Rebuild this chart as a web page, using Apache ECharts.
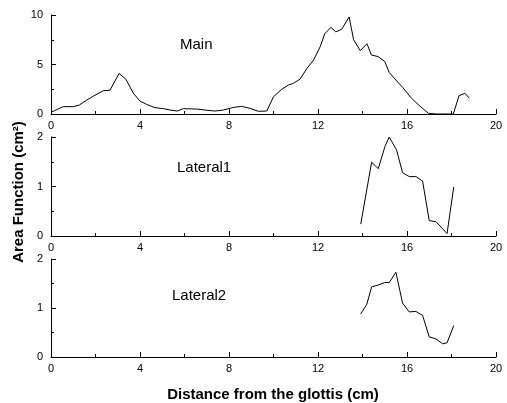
<!DOCTYPE html>
<html>
<head>
<meta charset="utf-8">
<script src="https://cdn.jsdelivr.net/npm/echarts@6/dist/echarts.min.js"></script>
<style>
  html, body { margin: 0; padding: 0; background: #fff; }
  #chart { width: 507px; height: 403px; }
</style>
</head>
<body>
<div id="chart"></div>
<script>
// distance from the glottis (cm) / area (cm2)
var mainX = [0, 0.22, 0.55, 1.0, 1.27, 1.6, 1.98, 2.35, 2.65, 3.06, 3.37, 3.7, 4.0, 4.3, 4.67, 5.05, 5.35, 5.68, 5.95, 6.55, 6.92, 7.37, 7.75, 8.2, 8.57, 8.94, 9.32, 9.7, 10.0, 10.37, 10.67, 10.9, 11.2, 11.5, 11.8, 12.1, 12.3, 12.58, 12.8, 13.06, 13.4, 13.6, 13.9, 14.2, 14.4, 14.7, 15.0, 15.2, 15.5, 15.8, 16.2, 16.58, 16.96, 17.3, 17.7, 18.08, 18.34, 18.6, 18.8];
var mainY = [0.17, 0.4, 0.74, 0.74, 0.9, 1.4, 1.9, 2.35, 2.4, 4.1, 3.5, 2.1, 1.3, 0.97, 0.64, 0.54, 0.4, 0.3, 0.54, 0.5, 0.4, 0.3, 0.4, 0.67, 0.77, 0.57, 0.27, 0.3, 1.75, 2.5, 2.93, 3.1, 3.54, 4.6, 5.45, 6.8, 8.1, 8.75, 8.3, 8.55, 9.8, 7.5, 6.4, 7.1, 5.96, 5.8, 5.3, 4.2, 3.43, 2.7, 1.6, 0.8, 0.07, 0, 0, 0, 1.85, 2.1, 1.6];

var lat1X = [13.92, 14.41, 14.71, 15.01, 15.2, 15.53, 15.8, 16.1, 16.4, 16.7, 17.0, 17.3, 17.8, 18.1];
var lat1Y = [0.24, 1.49, 1.36, 1.81, 2.0, 1.74, 1.28, 1.2, 1.2, 1.11, 0.31, 0.29, 0.05, 0.99];

var lat2X = [13.92, 14.19, 14.41, 14.71, 15.01, 15.2, 15.5, 15.8, 16.1, 16.4, 16.7, 17.0, 17.3, 17.6, 17.8, 18.1];
var lat2Y = [0.88, 1.07, 1.43, 1.47, 1.52, 1.52, 1.73, 1.1, 0.92, 0.93, 0.85, 0.41, 0.37, 0.27, 0.29, 0.64];

var panelNames = ['Main', 'Lateral1', 'Lateral2'];
var yMax = [10, 2, 2];
var yStep = [5, 1, 1];

function pairs(xs, ys) {
  return xs.map(function (x, i) { return [x, ys[i]]; });
}

var chart = echarts.init(document.getElementById('chart'), null, { renderer: 'canvas' });

var font = 'Liberation Sans, Arial, sans-serif';
var black = '#000';

var grids = [
  { left: 51, right: 11, top: 15, height: 99 },
  { left: 51, right: 11, top: 137, height: 99 },
  { left: 51, right: 11, top: 259, height: 98 }
];

var xAxes = grids.map(function (g, i) {
  return {
    type: 'value', gridIndex: i, min: 0, max: 20, interval: 4,
    axisLine: { lineStyle: { color: black, width: 1 } },
    axisTick: { inside: true, length: 5, lineStyle: { color: black } },
    minorTick: { show: true, splitNumber: 2, length: 3, lineStyle: { color: black } },
    splitLine: { show: false },
    axisLabel: { color: black, fontSize: 11, fontFamily: font, margin: 6 }
  };
});

var yAxes = grids.map(function (g, i) {
  return {
    type: 'value', gridIndex: i, min: 0, max: yMax[i], interval: yStep[i],
    axisLine: { show: true, lineStyle: { color: black, width: 1 } },
    axisTick: { inside: true, length: 5, lineStyle: { color: black } },
    minorTick: { show: true, splitNumber: 2, length: 3, lineStyle: { color: black } },
    splitLine: { show: false },
    axisLabel: { color: black, fontSize: 11, fontFamily: font, margin: 8 }
  };
});

var seriesData = [pairs(mainX, mainY), pairs(lat1X, lat1Y), pairs(lat2X, lat2Y)];

var option = {
  animation: false,
  backgroundColor: '#fff',
  grid: grids,
  xAxis: xAxes,
  yAxis: yAxes,
  graphic: [
    { type: 'text', left: 180, top: 37, style: { text: panelNames[0], font: '15px ' + font, fill: black } },
    { type: 'text', left: 177, top: 160, style: { text: panelNames[1], font: '15px ' + font, fill: black } },
    { type: 'text', left: 172, top: 288, style: { text: panelNames[2], font: '15px ' + font, fill: black } },
    {
      type: 'text', x: 19, y: 192, rotation: Math.PI / 2,
      style: {
        text: 'Area Function (cm\u00b2)', font: 'bold 15px ' + font, fill: black,
        textAlign: 'center', textVerticalAlign: 'middle'
      }
    },
    {
      type: 'text', x: 273, y: 395,
      style: {
        text: 'Distance from the glottis (cm)', font: 'bold 15px ' + font, fill: black,
        textAlign: 'center', textVerticalAlign: 'middle'
      }
    }
  ],
  series: seriesData.map(function (d, i) {
    return {
      name: panelNames[i],
      type: 'line',
      xAxisIndex: i,
      yAxisIndex: i,
      data: d,
      showSymbol: false,
      lineStyle: { color: black, width: 1 },
      itemStyle: { color: black }
    };
  })
};

chart.setOption(option);
</script>
</body>
</html>
